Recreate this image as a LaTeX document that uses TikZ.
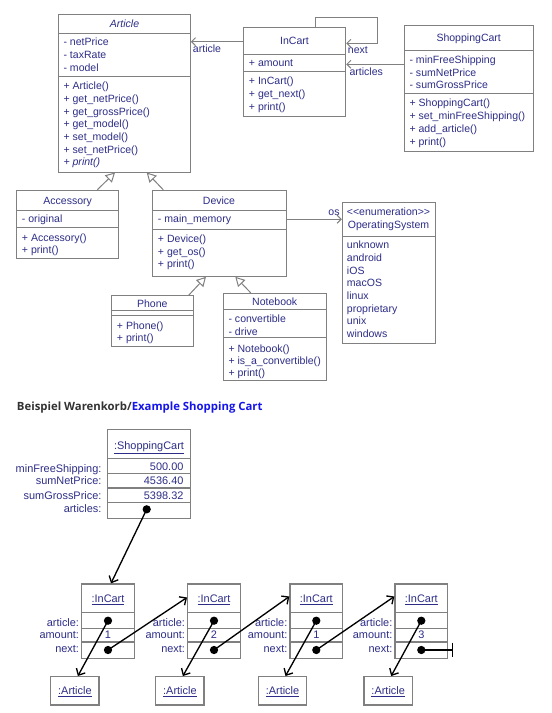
\documentclass[tikz,border=0pt]{standalone}
\usepackage{fontspec}
\usepackage{graphicx}
\setmainfont{Liberation Sans}
\newfontfamily\headfont{Open Sans}
\usetikzlibrary{arrows.meta,fit}
\definecolor{navy}{RGB}{45,45,135}
\definecolor{bordergray}{RGB}{128,128,128}
\definecolor{headgray}{RGB}{51,51,51}
\definecolor{headblue}{RGB}{20,20,235}
\begin{document}
\begin{tikzpicture}[x=0.75pt,y=-0.75pt,
  cls/.style={draw=bordergray, line width=0.75pt, inner sep=0pt, fill=white},
  sep/.style={draw=bordergray, line width=0.75pt},
  txt/.style={font=\fontsize{7.9}{9}\selectfont, text=navy, inner sep=0pt, anchor=base west},
  ctxt/.style={txt, anchor=base},
  rtxt/.style={txt, anchor=base east},
  assoc/.style={draw=bordergray, line width=0.75pt, -{Straight Barb[length=3pt,width=6pt]}},
  inherit/.style={draw=bordergray, line width=0.75pt, -{Triangle[open,length=7pt,width=7.5pt,fill=white]}},
  obj/.style={draw=bordergray, line width=1pt, inner sep=0pt},
  osep/.style={draw=bordergray, line width=1pt},
  otxt/.style={font=\fontsize{8.2}{9}\selectfont, text=navy, inner sep=0pt},
  dot/.style={circle, fill=black, inner sep=0pt, minimum size=6.2pt},
  link/.style={draw=black, line width=1pt, -{Straight Barb[length=4pt,width=7.5pt]}},
]
\useasboundingbox[fill=white] (0,0) rectangle (552,713);

% ---------- Article ----------
\node[cls, fit={(58.7,14.3) (190.3,172)}] (article) {};
\draw[sep] (58.7,33.3) -- (190.3,33.3);
\draw[sep] (58.7,76.3) -- (190.3,76.3);
\node[ctxt, font=\fontsize{7.9}{9}\selectfont\itshape] (article-t) at (124.5,27.4) {Article};
\foreach \t [count=\i] in {- netPrice,- taxRate,- model}
  \node[txt] (article-a\i) at (63.3,{46+(\i-1)*12.7}) {\t};
\foreach \t [count=\i] in {+ Article(),+ get\_netPrice(),+ get\_grossPrice(),+ get\_model(),+ set\_model(),+ set\_netPrice(),\textit{+ print()}}
  \node[txt] (article-m\i) at (63.3,{89.7+(\i-1)*12.7}) {\t};

% ---------- InCart ----------
\node[cls, fit={(243.3,27.3) (345.7,116.7)}] (incart) {};
\draw[sep] (243.3,54.3) -- (345.7,54.3);
\draw[sep] (243.3,71.3) -- (345.7,71.3);
\node[ctxt] (incart-t) at (294.5,44.4) {InCart};
\node[txt] (incart-a1) at (248.7,67) {+ amount};
\foreach \t [count=\i] in {+ InCart(),+ get\_next(),+ print()}
  \node[txt] (incart-m\i) at (248.7,{84.7+(\i-1)*13}) {\t};

% ---------- ShoppingCart ----------
\node[cls, fit={(404,25.3) (533.3,151.7)}] (cart) {};
\draw[sep] (404,50.3) -- (533.3,50.3);
\draw[sep] (404,93.7) -- (533.3,93.7);
\node[ctxt] (cart-t) at (468.7,42) {ShoppingCart};
\foreach \t [count=\i] in {- minFreeShipping,- sumNetPrice,- sumGrossPrice}
  \node[txt] (cart-a\i) at (409.3,{63.7+(\i-1)*12.5}) {\t};
\foreach \t [count=\i] in {+ ShoppingCart(),+ set\_minFreeShipping(),+ add\_article(),+ print()}
  \node[txt] (cart-m\i) at (409.3,{107+(\i-1)*12.8}) {\t};

% ---------- Accessory ----------
\node[cls, fit={(16.7,190.3) (118.7,258.7)}] (accessory) {};
\draw[sep] (16.7,210) -- (118.7,210);
\draw[sep] (16.7,227.3) -- (118.7,227.3);
\node[ctxt] (accessory-t) at (67.7,204) {Accessory};
\node[txt] (accessory-a1) at (21.7,222.7) {- original};
\foreach \t [count=\i] in {+ Accessory(),+ print()}
  \node[txt] (accessory-m\i) at (21.7,{241+(\i-1)*12.7}) {\t};

% ---------- Device ----------
\node[cls, fit={(152.3,190.3) (286,276.3)}] (device) {};
\draw[sep] (152.3,210) -- (286,210);
\draw[sep] (152.3,229.3) -- (286,229.3);
\node[ctxt] (device-t) at (219,204.4) {Device};
\node[txt] (device-a1) at (157.7,222.4) {- main\_memory};
\foreach \t [count=\i] in {+ Device(),+ get\_os(),+ print()}
  \node[txt] (device-m\i) at (157.7,{242.4+(\i-1)*12.7}) {\t};

% ---------- Phone ----------
\node[cls, fit={(111,295.7) (193.7,346.3)}] (phone) {};
\draw[sep] (111,310.3) -- (193.7,310.3);
\draw[sep] (111,315.7) -- (193.7,315.7);
\node[ctxt] (phone-t) at (152.3,307.4) {Phone};
\foreach \t [count=\i] in {+ Phone(),+ print()}
  \node[txt] (phone-m\i) at (116.7,{329+(\i-1)*12.5}) {\t};

% ---------- Notebook ----------
\node[cls, fit={(223.3,293.3) (326,380)}] (notebook) {};
\draw[sep] (223.3,309.3) -- (326,309.3);
\draw[sep] (223.3,337.3) -- (326,337.3);
\node[ctxt] (notebook-t) at (274.7,305.7) {Notebook};
\foreach \t [count=\i] in {- convertible,- drive}
  \node[txt] (notebook-a\i) at (228.3,{322.4+(\i-1)*13}) {\t};
\foreach \t [count=\i] in {+ Notebook(),+ is\_a\_convertible(),+ print()}
  \node[txt] (notebook-m\i) at (228.3,{352+(\i-1)*12}) {\t};

% ---------- OperatingSystem ----------
\node[cls, fit={(342.3,202.3) (435.7,343.3)}] (os) {};
\draw[sep] (342.3,236) -- (435.7,236);
\node[ctxt] (os-s) at (388.5,215.5) {{<}{<}enumeration{>}{>}};
\node[ctxt] (os-t) at (388.5,228) {OperatingSystem};
\foreach \t [count=\i] in {unknown,android,iOS,macOS,linux,proprietary,unix,windows}
  \node[txt] (os-v\i) at (346.7,{248.7+(\i-1)*12.7}) {\t};

% ---------- class connectors ----------
\draw[assoc] (incart.west |- 0,41.7) -- (article.east |- 0,41.7);
\node[txt] (lbl-article) at (192.7,53) {article};
\draw[assoc] (incart.north -| 315,0) |- (377.3,17.3) |- (incart.east |- 0,43.3);
\node[txt] (lbl-next) at (347.7,53.5) {next};
\draw[assoc] (cart.west |- 0,64.3) -- (incart.east |- 0,64.3);
\node[txt] (lbl-articles) at (349.3,76) {articles};
\draw[assoc] (device.east |- 0,219.3) -- (os.west |- 0,219.3);
\node[rtxt] (lbl-os) at (339.8,215) {os};
\draw[inherit] (accessory.north -| 97.3,0) -- (article.south -| 115,0);
\draw[inherit] (device.north -| 163.3,0) -- (article.south -| 146.7,0);
\draw[inherit] (phone.north -| 188.7,0) -- (device.south -| 206,0);
\draw[inherit] (notebook.north -| 250.7,0) -- (device.south -| 235.3,0);

% ---------- heading ----------
\node[inner sep=0pt, anchor=base west] (heading) at (16.7,410.5)
  {\resizebox{184.2pt}{!}{\headfont\bfseries\color{headgray}Beispiel Warenkorb/\color{headblue}Example Shopping Cart}};

% ---------- object: ShoppingCart ----------
\node[obj, fit={(107.7,429.3) (190.3,518.3)}] (sc) {};
\foreach \y in {458.5,473.5,488,502.5}
  \draw[osep] (107.7,\y) -- (190.3,\y);
\node[otxt, anchor=base] (sc-t) at (149,449.6) {\underline{:ShoppingCart}};
\node[otxt, anchor=base east] (sc-v1) at (183.7,470.2) {500.00};
\node[otxt, anchor=base east] (sc-v2) at (183.7,484.6) {4536.40};
\node[otxt, anchor=base east] (sc-v3) at (183.7,499.2) {5398.32};
\node[otxt, anchor=base east] (sc-l1) at (101.7,472) {minFreeShipping:};
\node[otxt, anchor=base east] (sc-l2) at (101.7,484.6) {sumNetPrice:};
\node[otxt, anchor=base east] (sc-l3) at (101.7,499.2) {sumGrossPrice:};
\node[otxt, anchor=base east] (sc-l4) at (101.7,512.5) {articles:};
\node[dot] (scd) at (146.7,509.3) {};

% ---------- objects: InCart ----------
\foreach \x/\amt [count=\k] in {81.7/1,187.7/2,290/1,395/3} {
  \node[obj, fit={(\x,584) ({\x+52.5},658.3)}] (ic\k) {};
  \foreach \y in {612.7,628.3,642}
    \draw[osep] (\x,\y) -- ({\x+52.5},\y);
  \node[otxt, anchor=base] (ic\k-t) at ({\x+26.3},602.6) {\underline{:InCart}};
  \node[otxt, anchor=base east] (ic\k-l1) at ({\x-2.4},626.2) {article:};
  \node[otxt, anchor=base east] (ic\k-l2) at ({\x-2.4},638.9) {amount:};
  \node[otxt, anchor=base east] (ic\k-l3) at ({\x-2.4},652.9) {next:};
  \node[otxt, anchor=base] (ic\k-v) at ({\x+26.3},638.9) {\amt};
  \node[dot] (ic\k a) at ({\x+26.3},620.7) {};
  \node[dot] (ic\k n) at ({\x+26.3},650) {};
}

% ---------- objects: Article ----------
\foreach \x [count=\k] in {50.7,155.7,258.3,364} {
  \node[obj, fit={(\x,676.7) ({\x+48.3},705)}] (a\k) {};
  \node[otxt, anchor=base] (a\k-t) at ({\x+24.2},694.6) {\underline{:Article}};
}

% ---------- object links ----------
\draw[link] (scd.center) -- (ic1.north -| 111,0);
\draw[link] (ic1a.center) -- ([xshift=2.25pt]a1.north);
\draw[link] (ic2a.center) -- ([xshift=2.25pt]a2.north);
\draw[link] (ic3a.center) -- ([xshift=2.25pt]a3.north);
\draw[link] (ic4a.center) -- ([xshift=2.25pt]a4.north);
\draw[link] (ic1n.center) -- (ic2.west |- 0,597.5);
\draw[link] (ic2n.center) -- (ic3.west |- 0,596.5);
\draw[link] (ic3n.center) -- (ic4.west |- 0,596.5);
\coordinate (nullend) at (453.3,650);
\draw[draw=black, line width=1pt, -{Bar[width=11pt]}] (ic4n.center) -- (nullend);
\end{tikzpicture}
\end{document}
